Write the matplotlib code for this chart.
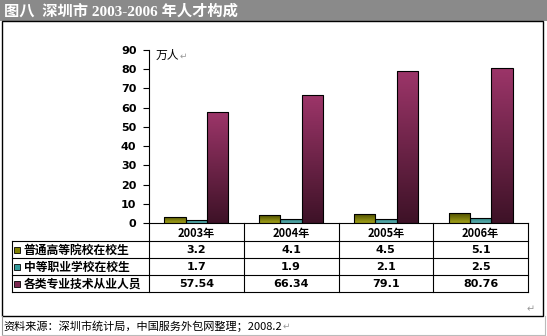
import numpy as np
import matplotlib
matplotlib.use('Agg')
import matplotlib.pyplot as plt
from matplotlib.patches import Rectangle
from matplotlib.colors import LinearSegmentedColormap

plt.rcParams['font.family'] = ['Noto Sans CJK SC', 'DejaVu Sans']

# ---- 数据 ----
years = ['2003年', '2004年', '2005年', '2006年']
series_names = ['普通高等院校在校生', '中等职业学校在校生', '各类专业技术从业人员']
college = [3.2, 4.1, 4.5, 5.1]
vocational = [1.7, 1.9, 2.1, 2.5]
professional = [57.54, 66.34, 79.1, 80.76]
value_labels = [['3.2', '4.1', '4.5', '5.1'],
                ['1.7', '1.9', '2.1', '2.5'],
                ['57.54', '66.34', '79.1', '80.76']]
yticks = [0, 10, 20, 30, 40, 50, 60, 70, 80, 90]

# 渐变色（上 -> 下）
grads = [('#4f4f00', '#a3a31a'), ('#2e8080', '#5cb3b3'), ('#9c3569', '#3e1227')]
keycol = ['#808000', '#339999', '#7a2850']

W, H = 547, 336
fig = plt.figure(figsize=(W / 100, H / 100), dpi=100)
renderer = fig.canvas.get_renderer()


def px_right(t):
    # 文本右端的像素 x 坐标
    return t.get_window_extent(renderer).x1


# 背景 / 框架层 (像素坐标)
ov = fig.add_axes([0, 0, 1, 1])
ov.set_xlim(0, W)
ov.set_ylim(H, 0)
ov.axis('off')

ov.add_patch(Rectangle((0, 0), W, 21, facecolor='#8a8a8a', edgecolor='none'))
ov.text(4, 11, '图八  深圳市 2003-2006 年人才构成', color='white', fontsize=11,
        fontweight='bold', va='center', ha='left',
        family=['Liberation Serif', 'Noto Sans CJK SC'])
ov.add_patch(Rectangle((2, 21), 541, 295, facecolor='none', edgecolor='black', lw=1))
ov.plot([2, 2], [316, 335], color='#999999', lw=0.8)
ov.plot([545, 545], [316, 335], color='#bbbbbb', lw=0.8)
ov.plot([2, 545], [335, 335], color='#bbbbbb', lw=0.8)
src = ov.text(3, 326, '资料来源：深圳市统计局，中国服务外包网整理；2008.2', fontsize=8,
              va='center', ha='left')
ov.text(px_right(src) + 1, 326, '↵', fontsize=6.5, color='#999999', va='center', ha='left')
ov.text(531, 309, '↵', fontsize=7, color='#999999', va='center', ha='center')

# ---- 柱状图 ----
pl, pr, pt, pb = 149, 528, 50, 223
ax = fig.add_axes([pl / W, 1 - pb / H, (pr - pl) / W, (pb - pt) / H])
ax.set_facecolor('none')
x = np.arange(len(years))
bw = 0.226
for i, vals in enumerate([college, vocational, professional]):
    bars = ax.bar(x + (i - 1) * bw, vals, bw, facecolor='none', edgecolor='black',
                  lw=0.8, zorder=3)
    cmap = LinearSegmentedColormap.from_list('g%d' % i, [grads[i][1], grads[i][0]])
    grad = np.linspace(0, 1, 64).reshape(-1, 1)
    for b in bars:
        im = ax.imshow(grad, cmap=cmap, origin='lower', aspect='auto', zorder=2,
                       extent=[b.get_x(), b.get_x() + b.get_width(), 0, b.get_height()])
        im.set_clip_path(b)
ax.set_xlim(-0.5, len(years) - 0.5)
ax.set_ylim(0, 90)
ax.set_yticks(yticks)
ax.set_yticklabels([str(t) for t in yticks], fontsize=8, fontweight='bold',
                   family='DejaVu Sans')
ax.tick_params(axis='y', length=4, width=0.8, pad=5)
ax.set_xticks([])
for s in ['top', 'right']:
    ax.spines[s].set_visible(False)
for s in ['left', 'bottom']:
    ax.spines[s].set_linewidth(0.8)
unit = ov.text(156, 55, '万人', fontsize=8.5, va='center', ha='left')
ov.text(px_right(unit) + 0.5, 56, '↵', fontsize=6.5, color='#999999', va='center', ha='left')

# ---- 数据表 ----
colw = (pr - pl) / len(years)
rows_y = [241, 258, 275, 292]
lw = 0.8
for k in range(len(years) + 1):
    ov.plot([pl + k * colw] * 2, [pb, rows_y[-1]], color='black', lw=lw)
ov.plot([12, 12], [rows_y[0], rows_y[-1]], color='black', lw=lw)
for ry in rows_y:
    ov.plot([12, pr], [ry, ry], color='black', lw=lw)
for k, yr in enumerate(years):
    ov.text(pl + (k + 0.5) * colw, (pb + rows_y[0]) / 2 + 1, yr, fontsize=8,
            fontweight='bold', ha='center', va='center')
for r, name in enumerate(series_names):
    cy = (rows_y[r] + rows_y[r + 1]) / 2 + 0.5
    ov.add_patch(Rectangle((14, cy - 3), 6, 6, facecolor=keycol[r], edgecolor='black',
                           lw=0.6))
    ov.text(24, cy, name, fontsize=8.5, fontweight='bold', ha='left', va='center')
    for k, lab in enumerate(value_labels[r]):
        ov.text(pl + (k + 0.5) * colw, cy, lab, fontsize=8, fontweight='bold',
                ha='center', va='center', family='DejaVu Sans')

fig.savefig('out.png', dpi=100)
